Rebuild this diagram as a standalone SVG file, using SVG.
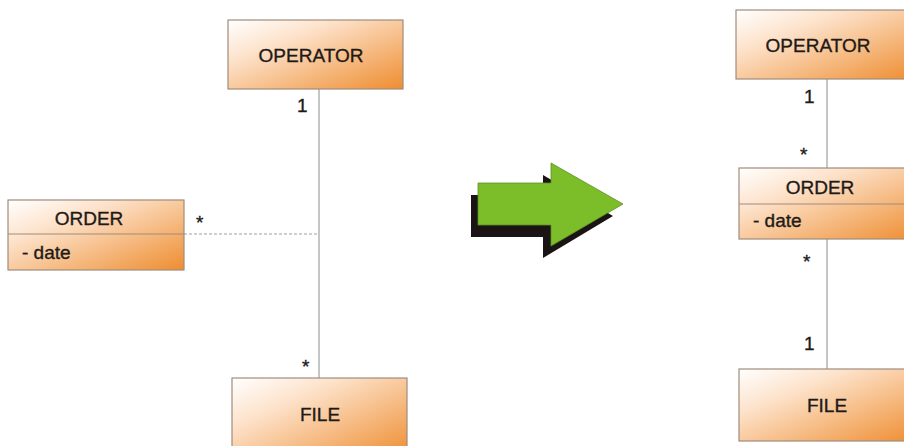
<svg xmlns="http://www.w3.org/2000/svg" width="904" height="446" viewBox="0 0 904 446">
<defs>
<linearGradient id="g" x1="0" y1="0" x2="1" y2="1">
<stop offset="0" stop-color="#ffffff"/>
<stop offset="0.3" stop-color="#fde3cc"/>
<stop offset="1" stop-color="#ee8d30"/>
</linearGradient>
<style>
.box{fill:url(#g);stroke:#a08c7c;stroke-width:1.2}
.div{stroke:#a08c7c;stroke-width:1.2}
.t{font-family:"Liberation Sans",Arial,sans-serif;font-size:19px;fill:#1e1a18;stroke:#1e1a18;stroke-width:0.35}
.m{text-anchor:middle}
.ln{stroke:#a0a0a0;stroke-width:1.2;fill:none}
.dash{stroke:#a0a0a0;stroke-width:1.2;stroke-dasharray:3,2;fill:none}
</style>
</defs>
<g id="connectors">
<line class="ln" x1="319" y1="89" x2="319" y2="378"/>
<line class="dash" x1="184" y1="234" x2="319" y2="234"/>
<line class="ln" x1="827" y1="79" x2="827" y2="168"/>
<line class="ln" x1="827" y1="239" x2="827" y2="369"/>
<text class="t" x="297" y="112">1</text>
<text class="t" x="196" y="229">*</text>
<text class="t" x="302" y="373">*</text>
<text class="t" x="804" y="103">1</text>
<text class="t" x="800" y="161">*</text>
<text class="t" x="803" y="268">*</text>
<text class="t" x="804" y="350">1</text>
</g>
<g id="operator-left">
<rect class="box" x="228" y="20" width="175" height="69"/>
<text class="t m" x="311" y="62">OPERATOR</text>
</g>
<g id="order-left">
<rect class="box" x="8" y="200" width="176" height="70"/>
<line class="div" x1="8" y1="234" x2="184" y2="234"/>
<text class="t m" x="89" y="225">ORDER</text>
<text class="t" x="22" y="259">- date</text>
</g>
<g id="file-left">
<rect class="box" x="232" y="378" width="175" height="80"/>
<text class="t m" x="320" y="421">FILE</text>
</g>
<g id="arrow">
<polygon fill="#1a1414" points="471,195 543,195 543,175 613,216 543,258 543,237 471,237"/>
<polygon fill="#7cbd2a" stroke="#5f8f22" stroke-width="0.8" points="478,183 551,183 551,163 623,204 551,246 551,225 478,225"/>
</g>
<g id="operator-right">
<rect class="box" x="736" y="10" width="180" height="69"/>
<text class="t m" x="818" y="52">OPERATOR</text>
</g>
<g id="order-right">
<rect class="box" x="739" y="168" width="180" height="71"/>
<line class="div" x1="739" y1="204" x2="919" y2="204"/>
<text class="t m" x="820" y="194">ORDER</text>
<text class="t" x="753" y="227">- date</text>
</g>
<g id="file-right">
<rect class="box" x="739" y="369" width="180" height="72"/>
<text class="t m" x="827" y="412">FILE</text>
</g>
</svg>
